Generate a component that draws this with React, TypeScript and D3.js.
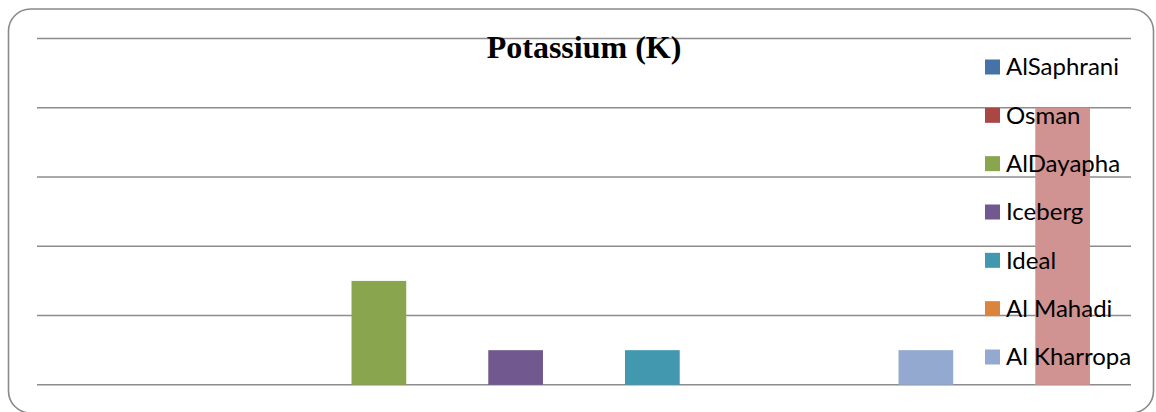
import React from "react";
import * as d3 from "d3";

// Potassium (K) content per sample
const samples = [
  "AlSaphrani",
  "Osman",
  "AlDayapha",
  "Iceberg",
  "Ideal",
  "Al Mahadi",
  "Al Kharropa",
  "Sample 8",
];
const potassium = [0, 0, 1.5, 0.5, 0.5, 0, 0.5, 4];
const colors = [
  "#4572A7",
  "#AA4643",
  "#89A54E",
  "#71588F",
  "#4198AF",
  "#DB843D",
  "#93A9CF",
  "#D19392",
];
const yTicks = [0, 1, 2, 3, 4, 5];
// Only the first seven legend rows fit inside the chart frame
const legendCount = 7;

const W = 1156;
const H = 412;

export default function App() {
  const x = d3
    .scaleBand<number>()
    .domain(d3.range(samples.length))
    .range([37, 1131])
    .paddingInner(0.6)
    .paddingOuter(0.3);
  const y = d3.scaleLinear().domain([0, 5]).range([384.8, 38.5]);

  const legendY = d3
    .scalePoint<number>()
    .domain(d3.range(legendCount))
    .range([67, 357]);

  return (
    <svg
      width={W}
      height={H}
      style={{ position: "absolute", left: 0, top: 0, background: "#fff" }}
    >
      <rect
        x={8.5}
        y={9}
        width={1145}
        height={404}
        rx={22}
        ry={22}
        fill="#fff"
        stroke="#8a8a8a"
        strokeWidth={1.6}
      />
      <g>
        {yTicks.map((t) => (
          <line
            key={t}
            x1={37}
            x2={1131}
            y1={y(t)}
            y2={y(t)}
            stroke="#8c8c8c"
            strokeWidth={1.4}
          />
        ))}
      </g>
      <g>
        {potassium.map((v, i) => (
          <rect
            key={samples[i]}
            x={x(i)}
            y={y(v)}
            width={x.bandwidth()}
            height={y(0) - y(v)}
            fill={colors[i]}
          />
        ))}
      </g>
      <text
        x={584}
        y={58}
        textAnchor="middle"
        fontFamily="'Liberation Serif', 'Times New Roman', serif"
        fontWeight="bold"
        fontSize={32}
        fill="#000"
      >
        Potassium (K)
      </text>
      <g fontFamily="Lato, 'Open Sans', sans-serif" fontSize={24} fill="#000">
        {samples.slice(0, legendCount).map((name, i) => (
          <g key={name} transform={`translate(985,${legendY(i)})`}>
            <rect x={0} y={-7.5} width={15} height={15} fill={colors[i]} />
            <text x={21} y={0} dy="0.35em">
              {name}
            </text>
          </g>
        ))}
      </g>
    </svg>
  );
}
